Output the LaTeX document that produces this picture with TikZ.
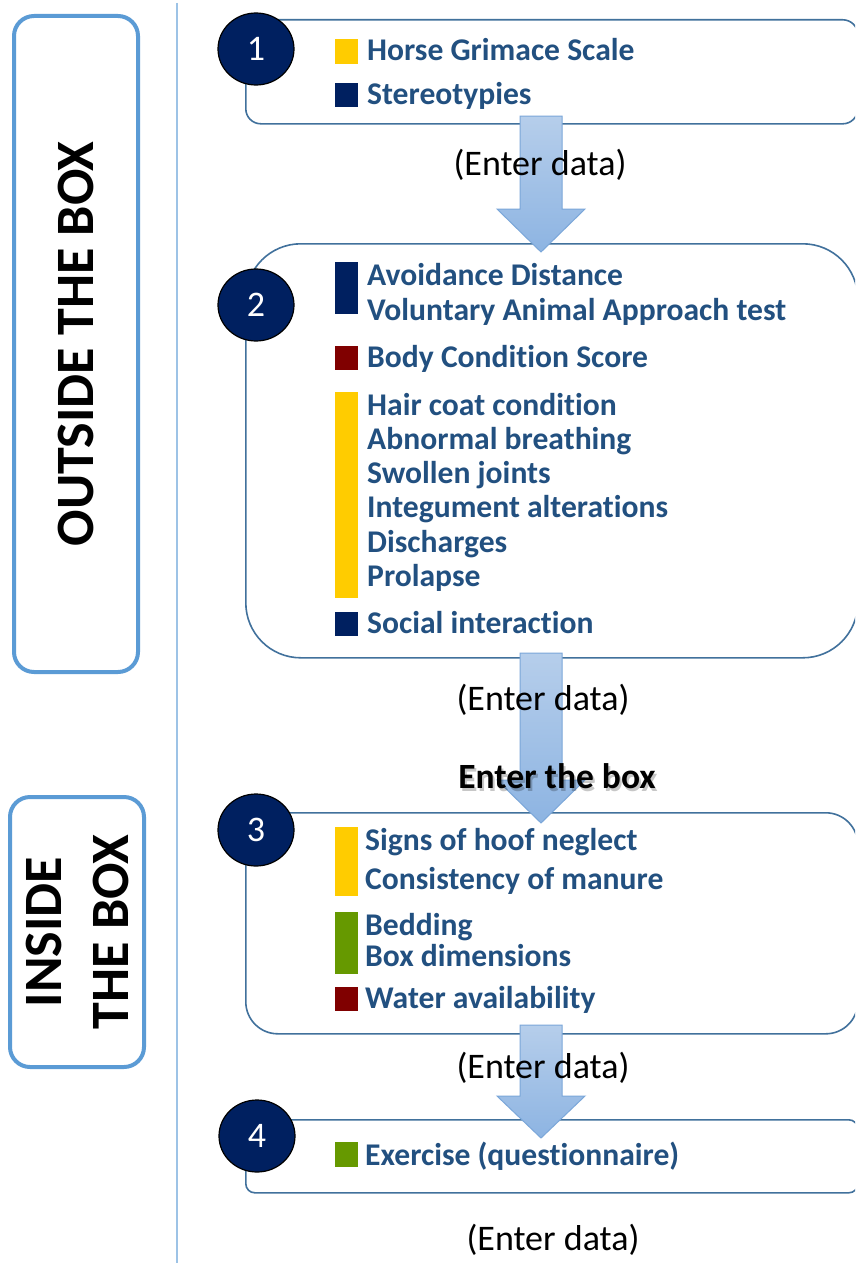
\documentclass[tikz,border=0pt]{standalone}
\usepackage{fontspec}
\setmainfont[Ligatures=NoCommon]{Carlito}
\usetikzlibrary{calc,shapes.geometric}
\definecolor{navyc}{RGB}{0,32,96}
\definecolor{itemblue}{RGB}{34,80,128}
\definecolor{yellowc}{RGB}{255,204,0}
\definecolor{redc}{RGB}{128,0,0}
\definecolor{greenc}{RGB}{102,153,0}
\definecolor{panelc}{RGB}{65,113,156}
\definecolor{sidec}{RGB}{91,155,213}
\definecolor{sepc}{RGB}{157,195,230}
\definecolor{arrtop}{RGB}{182,206,235}
\definecolor{arrbot}{RGB}{141,180,226}
\definecolor{arrline}{RGB}{123,167,217}
\tikzset{
  panel/.style={draw=panelc, line width=1.6pt, fill=white, inner sep=0pt, anchor=north west},
  sidebox/.style={draw=sidec, line width=4pt, rounded corners=20pt, inner sep=0pt, anchor=north west},
  sidetext/.style={font=\bfseries\fontsize{54}{67}\selectfont, text=black, align=center, rotate=90, inner sep=0pt},
  num/.style={ellipse, draw=black, line width=1.2pt, fill=navyc, text=white, font=\fontsize{36}{42}\selectfont, minimum width=76pt, minimum height=72pt, inner sep=0pt},
  item/.style={font=\bfseries\fontsize{31.6}{38}\selectfont, text=itemblue, anchor=base west, inner sep=0pt},
  enter/.style={font=\fontsize{36}{43}\selectfont, text=black, inner sep=0pt},
  enterbox/.style={font=\bfseries\fontsize{35.5}{42}\selectfont, inner sep=0pt},
  barc/.style={inner sep=0pt, anchor=north west},
}
\newcommand{\blockarrow}[5]{% name, xcenter, ytop, yhead, ytip
  \shadedraw[draw=arrline, line width=1pt, top color=arrtop, bottom color=arrbot]
    (#2-21,#3) -- (#2+21,#3) -- (#2+21,#4) -- (#2+44,#4) -- (#2,#5) -- (#2-44,#4) -- (#2-21,#4) -- cycle;
  \coordinate (#1) at (#2,#5);
}
\newcommand{\colbar}[5]{% name, color, x, ytop, ybot
  \node[barc, fill=#2, minimum width=23pt, minimum height=#5-#4] (#1) at (#3,#4) {};
}
\begin{document}
\begin{tikzpicture}[x=1pt,y=-1pt]
\useasboundingbox (0,0) rectangle (855,1263);
\begin{scope}
\clip (0,0) rectangle (855,1263);
\fill[white] (0,0) rectangle (855,1263);
% separator
\coordinate (septop) at (177,3);
\coordinate (sepbot) at (177,1263);
\draw[sepc, line width=1.5pt] (septop) -- (sepbot);
% side boxes
\node[sidebox, minimum width=124pt, minimum height=656pt] (outbox) at (12,14) {};
\node[sidetext] (outtxt) at (outbox.center) {OUTSIDE THE BOX};
\node[sidebox, minimum width=134pt, minimum height=270pt] (inbox) at (8,795) {};
\node[sidetext] (intxt) at (inbox.center) {INSIDE\\THE BOX};
% panels
\node[panel, rounded corners=15pt, minimum width=612pt, minimum height=104pt] (p1) at (245,19) {};
\node[panel, rounded corners=55pt, minimum width=612pt, minimum height=414pt] (p2) at (245,243) {};
\node[panel, rounded corners=32pt, minimum width=612pt, minimum height=221pt] (p3) at (245,812) {};
\node[panel, rounded corners=9pt, minimum width=612pt, minimum height=73pt] (p4) at (245,1119) {};
% numbers
\node[num] (n1) at (256,49) {1};
\node[num] (n2) at (256,305) {2};
\node[num] (n3) at (256,830) {3};
\node[num] (n4) at (257,1136) {4};
% panel 1 items
\colbar{s1a}{yellowc}{335}{39}{64}
\node[item] (t1a) at (367,60) {Horse Grimace Scale};
\colbar{s1b}{navyc}{335}{83}{107}
\node[item] (t1b) at (367,104) {Stereotypies};
% panel 2 items
\colbar{s2a}{navyc}{335}{262}{314}
\node[item] (t2a) at (367,285) {Avoidance Distance};
\node[item] (t2b) at (367,320) {Voluntary Animal Approach test};
\colbar{s2b}{redc}{335}{346}{370}
\node[item] (t2c) at (367,367) {Body Condition Score};
\colbar{s2c}{yellowc}{335}{392}{598}
\node[item] (t2d) at (367,415) {Hair coat condition};
\node[item] (t2e) at (367,449) {Abnormal breathing};
\node[item] (t2f) at (367,483) {Swollen joints};
\node[item] (t2g) at (367,517) {Integument alterations};
\node[item] (t2h) at (367,552) {Discharges};
\node[item] (t2i) at (367,586) {Prolapse};
\colbar{s2d}{navyc}{335}{612}{636}
\node[item] (t2j) at (367,633) {Social interaction};
% panel 3 items
\colbar{s3a}{yellowc}{335}{827}{896}
\node[item] (t3a) at (365,850) {Signs of hoof neglect};
\node[item] (t3b) at (365,889) {Consistency of manure};
\colbar{s3b}{greenc}{335}{912}{974}
\node[item] (t3c) at (365,935) {Bedding};
\node[item] (t3d) at (365,966) {Box dimensions};
\colbar{s3c}{redc}{335}{987}{1011}
\node[item] (t3e) at (365,1008) {Water availability};
% panel 4 items
\colbar{s4a}{greenc}{335}{1142}{1167}
\node[item] (t4a) at (365,1165) {Exercise (questionnaire)};
% arrows
\blockarrow{a1}{541}{116}{209}{252}
\blockarrow{a2}{541}{653}{780}{823}
\blockarrow{a3}{541}{1025}{1096}{1138}
% labels
\node[enter] (e1) at (540,165) {(Enter data)};
\node[enter] (e2) at (543,700) {(Enter data)};
\node[enterbox, text=black, opacity=0.22] (etbshadow) at (559,779) {Enter the box};
\node[enterbox, text=black] (etb) at (557,776) {Enter the box};
\node[enter] (e3) at (543,1068) {(Enter data)};
\node[enter] (e4) at (553,1240) {(Enter data)};
\end{scope}
\end{tikzpicture}
\end{document}
